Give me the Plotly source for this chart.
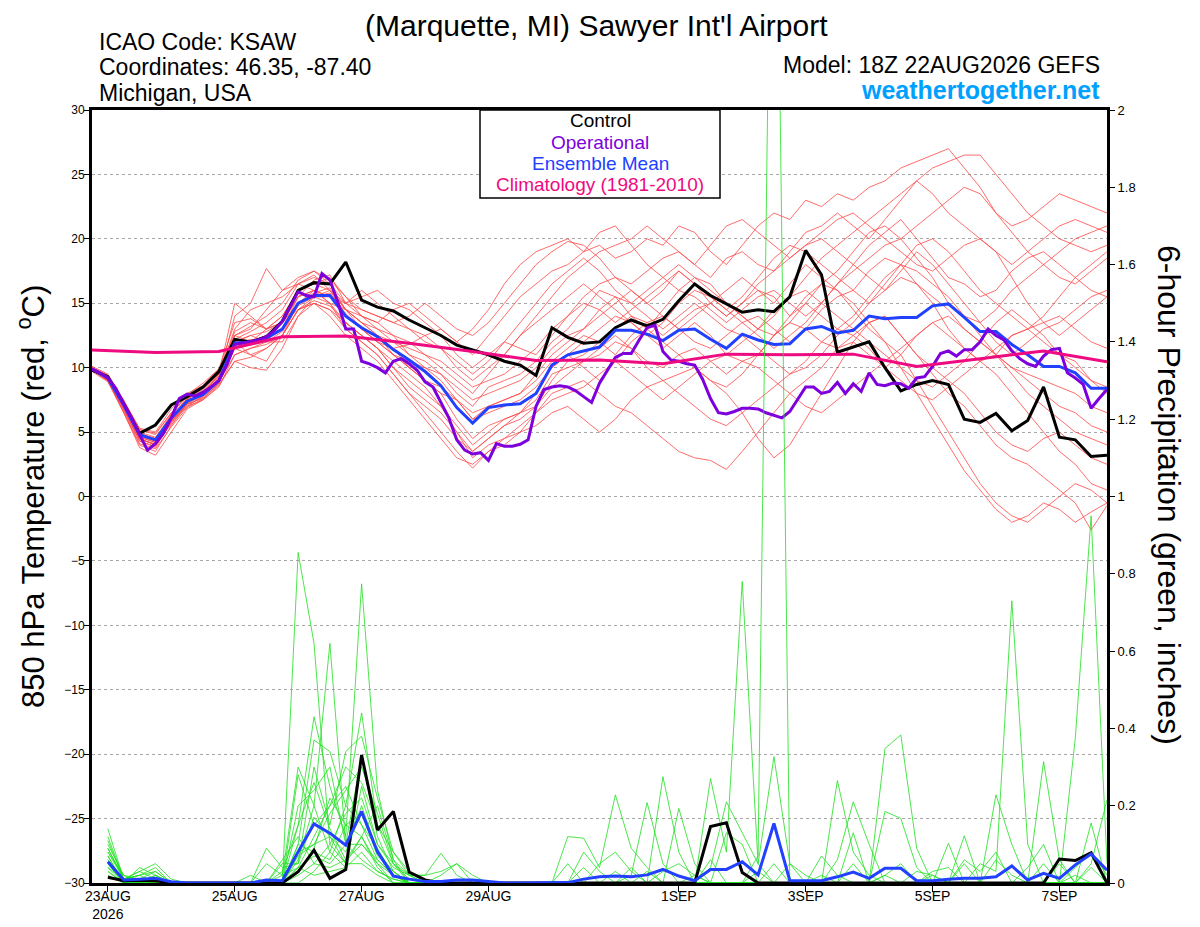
import pandas as pd
import plotly.graph_objects as go

# GEFS run 18Z 22AUG2026, temperature every 6h from the analysis, precip from +6h
RUN_START = '2026-08-22 18:00'
RUN_END = '2026-09-07 18:00'

tick_days = ['2026-08-23', '2026-08-25', '2026-08-27', '2026-08-29',
             '2026-09-01', '2026-09-03', '2026-09-05', '2026-09-07']
tick_labels = ['23AUG<br>2026', '25AUG', '27AUG', '29AUG', '1SEP', '3SEP', '5SEP', '7SEP']

# 850 hPa temperature (C), 6-hourly, 65 values
control_t = [9.8, 9.3, 7.2, 4.9, 5.55, 7.1, 7.75, 8.5, 9.7,
             12.2, 12.0, 12.4, 13.6, 16.0, 16.6, 16.5, 18.2, 15.25, 14.7, 14.4, 13.7,
             13.1, 12.5, 11.75, 11.4, 11.0, 10.5, 10.2, 9.4, 13.1, 12.35, 11.9, 12.0,
             13.1, 13.7, 13.25, 13.75, 15.2, 16.5, 15.6, 14.95, 14.3, 14.5,
             14.35, 15.5, 19.1, 17.2, 11.2, 11.6, 12.0, 10.0, 8.2, 8.7, 9.0, 8.7,
             6.0, 5.75, 6.45, 5.1, 5.9, 8.5, 4.6, 4.4, 3.1, 3.2]

mean_t = [9.9, 9.2, 7.1, 4.8, 4.4, 6.1, 7.4, 7.9, 9.0,
          11.9, 12.0, 12.3, 13.0, 15.0, 15.6, 15.6, 14.0,
          13.1, 12.4, 11.4, 10.6, 9.7, 8.6, 6.9, 5.7, 6.9, 7.1, 7.2, 8.0,
          10.2, 11.0, 11.3, 11.6, 12.9, 12.9, 12.6, 12.1, 12.9, 13.0, 12.2, 11.5,
          12.6, 12.15, 11.8, 11.85, 13.0, 13.2, 12.7, 12.9, 14.0, 13.8, 13.9, 13.9,
          14.8, 14.95, 13.9, 12.8, 12.8, 11.8, 11.0, 10.1, 10.1, 9.6, 8.4, 8.4]

# operational GFS is 3-hourly, 129 values
operational_t = [9.9, 9.6, 9.2, 8.4, 7.2, 6.1, 4.8, 3.6, 4.1, 4.9, 6.1, 7.6, 7.95, 7.8,
                 8.1, 8.5, 9.0, 10.2, 11.8, 11.9, 12.0, 12.15, 12.4, 12.9, 13.6, 14.7,
                 15.9, 15.6, 15.5, 17.3, 16.8, 15.1, 13.0, 13.0, 10.5, 10.3, 10.0, 9.6,
                 10.5, 10.7, 10.3, 9.8,
                 8.9, 8.5, 7.3, 6.1, 4.4, 3.6, 3.3, 3.4, 2.8, 4.1, 3.9, 3.9, 4.05, 4.4,
                 7.0, 8.3, 8.5, 8.6, 8.5, 8.2, 7.75, 7.3, 8.8, 9.8, 10.8, 11.1, 11.1,
                 12.15, 13.1, 13.3, 11.25, 10.6, 10.5, 10.3, 10.2, 9.1, 7.6, 6.5, 6.4,
                 6.6, 6.85, 6.85, 6.8,
                 6.5, 6.3, 6.1, 6.6, 7.6, 8.5, 8.5, 8.0, 8.15, 8.85, 8.0, 8.75, 8.15,
                 9.6, 8.7, 8.6, 8.8, 8.75, 8.4, 9.2, 9.3, 10.1, 11.1, 11.3, 10.9, 11.4,
                 11.4, 12.0, 13.0, 12.5, 12.15, 11.3, 10.7, 10.3, 10.1, 10.9, 11.4, 11.5,
                 9.6, 9.2, 8.7, 6.85, 7.6, 8.3]

# climatology, one value per day from the run start
climatology_t = [11.37, 11.17, 11.25, 12.4, 12.46, 11.9, 11.25, 10.55, 10.6,
                 10.3, 11.05, 11.0, 11.05, 10.1, 10.7, 11.3, 10.45]

# ensemble members (temperature)
red_01 = [9.9, 9.0, 6.5, 4.0, 3.5, 5.5, 7.2, 8.0, 9.5, 13.0, 14.5, 15.0, 15.5, 16.5, 17.2, 16.0, 14.0,
          13.0, 12.0, 11.5, 11.8, 12.5, 13.0, 12.0, 11.0, 12.5, 14.0, 15.5, 16.5,
          17.5, 18.0, 19.0, 19.5, 18.5, 19.0, 20.0, 19.5, 21.0, 20.5, 19.0, 18.0,
          19.5, 21.0, 22.0, 21.5, 23.0, 22.5, 23.5, 23.0, 24.0, 24.5, 25.5, 26.0, 26.5, 27.0,
          25.5, 24.0, 22.0, 21.0, 21.5, 22.5, 23.5, 23.0, 22.5, 22.0]
red_02 = [10.0, 9.3, 7.5, 5.2, 4.8, 6.5, 7.8, 8.5, 9.8, 12.5, 13.0, 14.5, 16.0, 17.0, 17.5, 16.5, 15.0,
          14.5, 14.0, 13.5, 14.0, 15.0, 14.0, 13.0, 12.5, 13.5, 15.0, 16.5, 18.0,
          19.0, 19.8, 19.5, 18.5, 17.0, 16.5, 17.5, 18.5, 19.0, 18.0, 17.0, 18.5,
          19.0, 18.0, 17.5, 19.0, 20.5, 21.0, 22.0, 21.0, 20.0, 21.5, 23.0, 24.5, 25.5, 26.0,
          26.5, 26.5, 25.0, 23.5, 22.0, 21.0, 20.0, 19.5, 19.0, 19.5]
red_03 = [9.8, 9.0, 6.8, 4.3, 3.8, 5.8, 7.0, 7.5, 8.5, 11.0, 11.5, 11.8, 12.5, 14.5, 15.5, 15.0, 13.5,
          12.5, 11.5, 10.0, 9.0, 8.0, 7.0, 5.0, 3.5, 4.5, 5.5, 6.0, 7.0,
          9.0, 10.5, 11.0, 12.0, 13.0, 14.0, 13.5, 12.5, 13.5, 14.5, 15.0, 14.0,
          15.0, 16.0, 15.5, 14.0, 15.5, 16.5, 16.0, 15.0, 13.5, 12.0, 10.0, 8.0, 6.0, 4.0,
          2.0, 0.5, -1.0, -2.0, -1.5, -0.5, -1.0, -2.0, -1.2, -0.5]
red_04 = [9.9, 9.2, 7.2, 4.9, 4.5, 6.3, 7.6, 8.2, 9.3, 12.0, 12.5, 12.0, 13.5, 15.5, 16.0, 15.5, 14.5,
          13.5, 12.5, 11.0, 10.0, 9.0, 8.0, 6.0, 4.5, 5.5, 6.0, 6.5, 7.5,
          9.5, 10.0, 10.5, 11.0, 12.0, 11.5, 10.5, 10.0, 11.0, 11.5, 10.5, 9.5,
          10.5, 11.0, 12.5, 13.5, 13.0, 12.0, 11.5, 12.5, 13.5, 14.0, 12.5, 11.0, 9.5, 8.0,
          7.0, 5.5, 4.0, 3.0, 2.5, 1.5, 0.5, -0.5, -2.6, -0.7]
red_05 = [10.0, 9.4, 7.0, 4.5, 4.0, 5.8, 7.3, 8.0, 9.2, 14.0, 15.0, 17.7, 16.0, 16.5, 16.0, 15.0, 14.5,
          14.0, 13.5, 14.5, 15.0, 14.0, 13.0, 12.0, 13.0, 14.5, 16.5, 18.0, 19.0,
          19.5, 20.0, 19.0, 20.5, 21.0, 19.5, 18.0, 17.0, 16.0, 15.5, 14.5, 13.5,
          14.5, 15.5, 16.0, 15.0, 14.0, 15.0, 16.5, 18.0, 19.5, 20.5, 21.5, 20.0, 18.5, 17.0,
          16.5, 15.5, 16.0, 17.5, 18.5, 19.0, 18.0, 17.0, 16.0, 15.5]
red_06 = [9.7, 8.9, 6.5, 3.8, 3.2, 5.0, 6.8, 7.5, 8.6, 10.5, 10.0, 9.8, 11.5, 14.0, 15.0, 14.5, 13.0,
          12.0, 11.0, 9.5, 8.0, 6.5, 5.0, 3.5, 2.2, 3.5, 4.5, 5.0, 5.5,
          6.5, 7.0, 6.0, 5.0, 6.0, 7.5, 8.5, 9.0, 8.0, 7.0, 6.0, 5.5,
          6.5, 7.5, 8.5, 9.5, 10.0, 11.0, 12.5, 13.5, 15.0, 16.0, 17.0, 16.5, 15.5, 14.5,
          13.0, 12.0, 11.0, 10.0, 9.0, 8.0, 7.0, 6.5, 5.5, 5.0]
red_07 = [9.9, 9.1, 7.0, 4.7, 4.3, 6.0, 7.5, 8.5, 9.6, 12.5, 12.0, 13.0, 14.0, 16.0, 16.5, 17.0, 15.5,
          14.0, 13.0, 12.0, 11.0, 10.0, 9.5, 8.0, 7.0, 8.5, 9.0, 9.5, 10.5,
          12.0, 13.0, 14.5, 16.0, 15.5, 14.0, 13.0, 14.5, 16.0, 17.0, 16.5, 15.0,
          14.0, 13.0, 12.5, 13.5, 15.0, 16.5, 17.5, 19.0, 20.5, 21.0, 20.0, 18.5, 17.0, 15.0,
          14.0, 13.5, 14.5, 16.0, 17.0, 18.0, 19.0, 20.0, 20.5, 21.0]
red_08 = [9.8, 9.0, 6.9, 4.6, 4.2, 5.9, 7.1, 7.7, 8.8, 11.5, 11.0, 11.5, 12.5, 14.5, 15.0, 14.0, 12.5,
          11.5, 10.5, 9.0, 7.5, 6.0, 4.5, 3.0, 2.5, 3.5, 4.0, 5.0, 6.5,
          8.0, 8.5, 9.0, 8.0, 7.0, 6.5, 5.5, 4.5, 3.5, 3.0, 2.8, 2.1,
          3.5, 5.0, 6.5, 8.0, 9.0, 10.0, 11.5, 12.0, 11.0, 10.0, 11.0, 12.5, 13.5, 14.0,
          13.0, 12.0, 11.0, 10.0, 9.5, 9.0, 8.5, 8.0, 7.0, 6.5]
red_09 = [10.1, 9.5, 7.4, 5.3, 5.0, 6.8, 8.0, 8.6, 9.9, 13.5, 13.8, 13.0, 14.0, 16.0, 16.5, 16.0, 15.0,
          15.5, 16.0, 15.0, 14.5, 13.5, 12.5, 11.0, 10.0, 11.0, 12.0, 11.5, 11.0,
          12.5, 14.0, 15.5, 16.5, 17.0, 16.0, 15.0, 16.0, 17.5, 16.5, 15.0, 14.0,
          15.0, 16.5, 17.5, 18.5, 19.5, 20.0, 19.0, 18.0, 17.0, 16.0, 17.5, 19.0, 18.0, 16.5,
          15.0, 13.5, 12.0, 11.0, 12.0, 13.0, 13.5, 14.5, 15.5, 16.0]
red_10 = [9.8, 9.1, 6.7, 4.4, 4.1, 5.6, 7.0, 7.8, 8.9, 11.0, 11.5, 12.0, 12.0, 14.0, 15.5, 16.0, 14.5,
          13.5, 12.5, 11.5, 10.0, 9.0, 8.0, 7.5, 6.5, 7.0, 7.5, 8.0, 9.0,
          10.5, 11.5, 12.5, 12.0, 11.0, 12.5, 13.5, 14.0, 13.0, 12.0, 11.5, 12.5,
          13.5, 14.0, 13.0, 12.0, 13.0, 14.5, 15.5, 16.0, 17.5, 18.5, 18.0, 16.5, 15.0, 13.0,
          11.5, 10.5, 11.0, 12.5, 13.0, 12.0, 11.0, 10.5, 9.0, 8.0]
red_11 = [9.9, 9.3, 7.3, 5.0, 4.6, 6.2, 7.4, 7.9, 9.1, 12.0, 12.5, 12.8, 13.5, 15.0, 15.8, 16.2, 14.5,
          13.0, 12.0, 11.0, 10.5, 10.0, 9.0, 7.5, 6.0, 7.0, 7.5, 8.0, 9.5,
          11.0, 12.0, 13.0, 14.0, 15.0, 16.0, 15.0, 14.0, 13.0, 14.0, 15.0, 16.0,
          17.0, 16.0, 15.0, 16.5, 18.0, 17.0, 16.0, 14.5, 13.0, 12.0, 11.0, 9.0, 7.0, 5.0,
          3.0, 1.0, -0.5, -1.5, -2.0, -1.0, 0.0, 1.0, 0.5, -0.5]
red_12 = [9.9, 9.2, 7.0, 4.5, 4.0, 6.0, 7.2, 7.6, 8.8, 11.5, 12.0, 12.5, 13.0, 15.5, 16.8, 17.2, 15.0,
          14.0, 13.5, 12.5, 11.0, 10.5, 9.5, 8.5, 7.5, 8.0, 8.5, 9.0, 10.0,
          11.5, 12.5, 13.0, 14.5, 15.5, 15.0, 14.0, 13.0, 14.0, 15.0, 14.0, 13.0,
          12.5, 11.5, 10.5, 9.5, 10.5, 12.0, 13.0, 12.5, 11.5, 10.0, 9.0, 8.0, 7.5, 8.5,
          9.5, 10.5, 11.5, 12.5, 13.0, 13.5, 14.0, 13.0, 12.0, 11.5]
red_13 = [9.8, 9.0, 7.1, 4.8, 4.5, 6.4, 7.9, 8.8, 9.9, 12.0, 11.0, 10.5, 12.5, 15.0, 16.0, 15.0, 13.0,
          12.0, 11.0, 9.5, 8.0, 7.0, 6.0, 4.5, 3.5, 4.5, 5.5, 6.5, 8.0,
          10.0, 11.0, 10.0, 9.0, 10.5, 12.0, 13.0, 12.0, 11.0, 10.0, 9.0, 8.5,
          9.5, 11.0, 12.5, 14.0, 15.0, 14.0, 13.0, 14.0, 15.5, 17.0, 18.0, 17.5, 16.5, 15.5,
          14.0, 12.5, 11.0, 9.5, 8.0, 7.0, 6.0, 5.0, 4.5, 4.0]
red_14 = [10.0, 9.3, 7.2, 4.9, 4.4, 6.0, 7.5, 8.1, 9.4, 12.8, 13.5, 13.0, 13.5, 15.0, 15.5, 15.5, 14.0,
          13.0, 12.5, 12.0, 11.5, 11.0, 10.0, 9.0, 8.0, 9.5, 11.0, 12.5, 13.5,
          14.5, 15.5, 16.5, 15.5, 14.5, 13.5, 12.5, 13.5, 15.0, 16.0, 15.5, 14.5,
          15.5, 17.0, 18.5, 19.5, 19.0, 18.0, 17.0, 16.0, 15.0, 16.5, 18.0, 19.5, 20.0, 19.0,
          17.5, 16.0, 15.0, 14.0, 13.0, 14.0, 15.5, 17.0, 18.0, 19.0]
red_15 = [9.9, 9.1, 6.8, 4.3, 3.9, 5.7, 7.2, 7.8, 9.0, 11.5, 12.0, 12.5, 13.5, 14.5, 15.0, 14.5, 13.5,
          12.5, 11.5, 10.5, 9.5, 8.5, 7.0, 5.5, 4.0, 5.0, 6.0, 6.5, 7.0,
          8.5, 9.5, 10.5, 11.5, 12.5, 11.5, 10.0, 9.0, 9.5, 10.0, 9.0, 8.0,
          6.5, 4.5, 3.0, 4.0, 6.0, 8.0, 10.0, 12.0, 13.5, 14.0, 12.5, 11.0, 10.0, 9.0,
          8.0, 6.5, 5.0, 4.0, 3.5, 4.5, 5.0, 4.0, 3.0, 2.5]
red_16 = [9.9, 9.2, 7.3, 5.2, 4.9, 6.5, 7.7, 8.3, 9.5, 15.0, 14.0, 13.0, 13.5, 15.5, 16.0, 15.5, 15.0,
          16.0, 15.0, 14.0, 13.0, 12.5, 11.5, 10.0, 9.0, 10.0, 11.0, 12.5, 14.0,
          15.5, 17.0, 18.0, 19.0, 19.5, 20.0, 21.0, 20.0, 19.0, 18.0, 19.5, 21.0,
          21.5, 20.5, 19.5, 18.5, 19.5, 20.5, 21.5, 22.0, 21.0, 20.0, 19.0, 18.0, 17.5, 18.5,
          19.5, 20.0, 19.0, 17.0, 15.0, 13.5, 12.5, 13.5, 14.5, 15.5]
red_17 = [9.8, 9.0, 6.6, 4.1, 3.7, 5.4, 6.9, 7.6, 8.7, 10.5, 10.8, 11.5, 12.5, 14.5, 15.2, 14.8, 13.5,
          12.5, 11.5, 10.0, 8.5, 7.5, 6.5, 5.0, 3.0, 4.0, 4.5, 5.5, 6.5,
          7.5, 8.0, 8.5, 9.5, 10.5, 9.5, 8.5, 7.5, 8.5, 9.5, 10.5, 11.0,
          12.0, 13.0, 14.5, 15.5, 16.0, 15.0, 14.0, 13.0, 12.0, 11.0, 10.0, 9.0, 8.5, 9.5,
          10.5, 12.0, 13.5, 14.5, 13.5, 12.5, 11.0, 10.0, 9.0, 8.5]
red_18 = [10.0, 9.4, 7.2, 4.6, 4.2, 6.1, 7.6, 8.4, 9.6, 12.2, 12.8, 13.5, 14.5, 16.5, 17.0, 16.5, 14.5,
          13.5, 13.0, 12.5, 12.0, 11.0, 10.5, 9.5, 8.5, 9.0, 9.5, 10.5, 11.5,
          13.0, 14.0, 15.0, 14.5, 13.5, 14.5, 15.5, 16.5, 17.5, 16.5, 15.5, 14.5,
          13.5, 12.5, 11.5, 12.5, 13.5, 15.0, 16.5, 17.5, 18.5, 19.5, 20.0, 21.0, 22.0, 23.0,
          24.0, 23.5, 22.0, 20.5, 19.0, 18.0, 17.0, 16.5, 17.5, 18.5]
red_19 = [9.9, 9.2, 7.0, 4.7, 4.3, 6.0, 7.4, 8.0, 9.0, 11.8, 12.2, 12.0, 12.8, 14.8, 15.5, 15.8, 14.2,
          13.0, 12.0, 11.0, 10.0, 9.0, 8.5, 7.5, 6.0, 6.5, 7.0, 7.5, 8.5,
          10.0, 11.0, 12.0, 13.0, 14.0, 13.5, 12.5, 11.5, 12.5, 13.5, 12.5, 11.0,
          10.5, 10.0, 9.0, 8.0, 7.0, 6.5, 7.5, 8.5, 9.5, 10.5, 11.5, 12.5, 13.5, 12.5,
          11.5, 10.5, 9.5, 8.0, 6.5, 5.0, 3.5, 2.5, 1.0, 0.5]
red_20 = [9.8, 9.1, 6.9, 4.5, 4.0, 5.9, 7.3, 8.1, 9.3, 12.5, 13.2, 14.0, 15.0, 16.8, 17.5, 16.8, 15.5,
          14.5, 14.0, 13.5, 13.0, 12.0, 11.5, 10.5, 9.5, 10.5, 12.0, 13.5, 15.0,
          16.5, 17.5, 18.5, 17.5, 16.0, 15.0, 16.0, 17.0, 18.0, 17.0, 16.0, 15.0,
          14.0, 13.0, 14.0, 15.5, 17.0, 18.5, 19.5, 20.5, 21.5, 22.5, 23.5, 24.5, 23.5, 22.0,
          21.0, 20.0, 19.0, 18.0, 19.0, 20.0, 21.0, 21.5, 21.0, 20.5]

# 6-hour precipitation (inches), 64 values from 00Z 23AUG
control_p = [0.015, 0.006, 0.007, 0.006, 0, 0, 0, 0,
             0, 0, 0, 0, 0.029, 0.085, 0.012, 0.035,
             0.331, 0.137, 0.185, 0.028, 0.008, 0, 0, 0,
             0, 0, 0, 0, 0, 0, 0, 0,
             0, 0, 0, 0, 0, 0, 0.146, 0.156,
             0.027, 0, 0, 0, 0, 0, 0, 0,
             0, 0, 0, 0, 0, 0, 0, 0,
             0, 0, 0, 0, 0.062, 0.058, 0.078, 0]
mean_p = [0.055, 0.008, 0.01, 0.012, 0.003, 0, 0, 0,
          0, 0, 0.008, 0.006, 0.081, 0.153, 0.129, 0.098,
          0.185, 0.081, 0.018, 0.01, 0.004, 0.004, 0.008, 0.008,
          0.004, 0, 0, 0, 0, 0.001, 0.01, 0.016,
          0.018, 0.016, 0.021, 0.035, 0.018, 0.006, 0.035, 0.035,
          0.055, 0.021, 0.154, 0.006, 0.006, 0.006, 0.016, 0.028,
          0.012, 0.038, 0.038, 0.006, 0.006, 0.01, 0.012, 0.012,
          0.016, 0.044, 0.008, 0.025, 0.012, 0.047, 0.075, 0.033]

green_01 = [0.14, 0.01, 0.02, 0.04, 0, 0, 0, 0, 0, 0, 0, 0, 0.855, 0.62, 0.10, 0.05,
            0.12, 0.05, 0.02, 0, 0, 0, 0, 0, 0, 0, 0, 0, 0, 0, 0, 0,
            0, 0, 0, 0.03, 0.05, 0.02, 0, 0, 0, 0, 0, 0, 0, 0, 0, 0,
            0, 0, 0, 0, 0, 0, 0, 0.05, 0.03, 0.73, 0.10, 0, 0, 0, 0, 0]
green_02 = [0.09, 0.01, 0.03, 0.05, 0.01, 0, 0, 0, 0, 0, 0, 0.03, 0.15, 0.43, 0.25, 0.12,
            0.774, 0.24, 0.06, 0.02, 0, 0, 0, 0, 0, 0, 0, 0, 0, 0, 0, 0,
            0, 0, 0, 0, 0, 0, 0, 0, 0, 0.07, 3.3, 0, 0, 0.02, 0, 0,
            0, 0, 0, 0, 0, 0, 0, 0, 0, 0, 0, 0, 0, 0.04, 0.08, 0.02]
green_03 = [0.07, 0, 0, 0.02, 0, 0, 0, 0, 0, 0, 0.05, 0.02, 0.3, 0.2, 0.62, 0.1,
            0.1, 0.06, 0.02, 0, 0, 0, 0, 0, 0, 0, 0, 0, 0, 0, 0, 0,
            0.03, 0, 0, 0, 0, 0, 0.27, 0.08, 0.78, 0.05, 0, 0, 0, 0, 0, 0,
            0, 0.02, 0, 0, 0, 0, 0, 0, 0, 0, 0, 0, 0, 0.374, 0.95, 0.05]
green_04 = [0.05, 0.01, 0, 0, 0, 0, 0, 0, 0, 0.02, 0, 0, 0.1, 0.37, 0.34, 0.2,
            0.44, 0.15, 0.05, 0, 0, 0, 0, 0, 0, 0, 0, 0, 0, 0, 0.08, 0.03,
            0, 0.02, 0.208, 0.05, 0, 0, 0, 0, 0, 0, 0, 0.05, 0.02, 0, 0.265, 0.08,
            0.02, 0, 0, 0, 0, 0, 0, 0, 0, 0, 0, 0, 0, 0, 0, 0]
green_05 = [0.11, 0.01, 0.01, 0.03, 0, 0, 0, 0, 0, 0, 0, 0.05, 0.05, 0.3, 0.15, 0.34,
            0.38, 0.22, 0.08, 0.03, 0, 0, 0, 0, 0, 0, 0, 0, 0, 0, 0, 0,
            0, 0, 0, 0.275, 0.08, 0, 0.06, 0, 0, 0, 0, 0, 0, 0, 0.06, 0.21,
            0.1, 0, 0, 0, 0, 0, 0, 0, 0, 0, 0, 0.314, 0.06, 0, 0, 0]
green_06 = [0.03, 0, 0, 0, 0, 0, 0, 0, 0, 0, 0, 0, 0.2, 0.24, 0.3, 0.1,
            0.33, 0.12, 0.03, 0, 0, 0.02, 0.05, 0, 0, 0, 0, 0, 0, 0.12, 0.116, 0.04,
            0.228, 0.09, 0.04, 0, 0, 0, 0.04, 0.21, 0.13, 0.05, 0.327, 0.05, 0, 0, 0, 0,
            0, 0, 0, 0, 0, 0, 0.122, 0, 0.06, 0.02, 0, 0, 0, 0, 0, 0]
green_07 = [0.06, 0.01, 0.03, 0.01, 0, 0, 0, 0, 0, 0, 0, 0, 0.06, 0.2, 0.08, 0.04,
            0.25, 0.1, 0.05, 0.02, 0.02, 0.077, 0.02, 0, 0, 0, 0, 0, 0, 0, 0, 0,
            0, 0, 0, 0, 0.193, 0.05, 0, 0, 0, 0, 0, 0, 0, 0.07, 0.02, 0,
            0, 0.348, 0.383, 0.09, 0, 0, 0, 0, 0, 0, 0, 0, 0, 0, 0.05, 0.215]
green_08 = [0.04, 0, 0.04, 0.02, 0, 0, 0, 0, 0, 0, 0.09, 0.04, 0.05, 0.17, 0.12, 0.08,
            0.2, 0.08, 0.03, 0, 0, 0, 0, 0, 0, 0, 0, 0, 0, 0, 0, 0,
            0, 0, 0, 0, 0, 0, 0, 0.13, 0.1, 0, 0, 0, 0, 0, 0, 0.13,
            0, 0.185, 0.167, 0.04, 0, 0.103, 0, 0, 0.228, 0.1, 0, 0, 0, 0, 0.155, 0]
green_09 = [0.02, 0, 0, 0, 0, 0, 0, 0, 0, 0, 0, 0, 0.28, 0.15, 0.2, 0.25,
            0.15, 0.06, 0.02, 0, 0, 0, 0, 0, 0, 0, 0, 0, 0, 0, 0, 0,
            0, 0, 0, 0, 0, 0, 0, 0, 0, 0, 0, 0, 0, 0, 0, 0,
            0, 0, 0, 0, 0, 0, 0.06, 0.03, 0.08, 0, 0.04, 0.1, 0, 0.02, 0, 0]
green_10 = [0.1, 0.02, 0.01, 0, 0, 0, 0, 0, 0, 0, 0, 0, 0.04, 0.12, 0.2, 0.3,
            0.26, 0.15, 0.08, 0.02, 0, 0, 0, 0, 0, 0, 0, 0, 0, 0, 0.04, 0,
            0, 0, 0, 0, 0, 0, 0, 0, 0, 0, 0, 0, 0, 0, 0, 0,
            0, 0.02, 0.05, 0, 0, 0, 0, 0, 0, 0, 0, 0, 0, 0, 0, 0]
green_11 = [0.08, 0.01, 0.02, 0.03, 0, 0, 0, 0, 0, 0, 0, 0, 0.1, 0.08, 0.06, 0.15,
            0.18, 0.07, 0.03, 0, 0, 0, 0, 0, 0, 0, 0, 0, 0, 0.05, 0, 0,
            0, 0, 0, 0, 0, 0, 0, 0, 0, 0, 0, 0, 0, 0, 0, 0.05,
            0, 0, 0, 0, 0, 0, 0, 0, 0, 0, 0, 0, 0, 0, 0, 0]
green_12 = [0.05, 0, 0, 0, 0, 0, 0, 0, 0, 0, 0, 0.06, 0.12, 0.05, 0.1, 0.18,
            0.22, 0.1, 0.04, 0.02, 0.02, 0.03, 0.05, 0.02, 0, 0, 0, 0, 0, 0, 0, 0,
            0, 0, 0, 0, 0, 0, 0, 0, 0, 0, 0, 0, 0, 0, 0, 0,
            0, 0, 0, 0, 0.02, 0, 0.05, 0, 0, 0, 0, 0, 0, 0, 0, 0]
green_13 = [0.06, 0.01, 0, 0, 0, 0, 0, 0, 0, 0, 0, 0, 0.15, 0.26, 0.14, 0.06,
            0.12, 0.04, 0, 0, 0, 0, 0, 0, 0, 0, 0, 0, 0, 0, 0, 0,
            0, 0, 0, 0, 0, 0, 0, 0, 0, 0, 0.05, 0, 0, 0, 0, 0,
            0, 0, 0, 0, 0, 0, 0, 0, 0, 0, 0, 0, 0, 0, 0, 0]
green_14 = [0.12, 0.01, 0.02, 0, 0, 0, 0, 0, 0, 0, 0, 0, 0.08, 0.1, 0.18, 0.24,
            0.3, 0.18, 0.05, 0.01, 0, 0, 0, 0, 0, 0, 0, 0, 0, 0, 0, 0,
            0, 0, 0, 0, 0, 0.02, 0, 0, 0, 0, 0, 0, 0, 0, 0, 0,
            0, 0, 0, 0, 0, 0, 0, 0, 0, 0, 0, 0, 0.05, 0, 0, 0]
green_15 = [0.04, 0.01, 0, 0, 0, 0, 0, 0, 0, 0, 0, 0.02, 0.04, 0.07, 0.05, 0.1,
            0.06, 0.03, 0.01, 0, 0, 0, 0, 0, 0, 0, 0, 0, 0, 0, 0, 0.05,
            0.08, 0.03, 0, 0, 0, 0, 0, 0, 0, 0, 0, 0, 0, 0, 0, 0,
            0, 0, 0, 0, 0, 0, 0, 0, 0, 0, 0, 0, 0, 0, 0, 0]
green_16 = [0.08, 0.02, 0, 0.02, 0, 0, 0, 0, 0, 0, 0, 0, 0.03, 0.09, 0.22, 0.15,
            0.12, 0.2, 0.06, 0, 0, 0, 0, 0, 0, 0, 0, 0, 0, 0, 0, 0,
            0, 0, 0.03, 0, 0, 0, 0, 0, 0, 0, 0, 0, 0, 0, 0, 0,
            0, 0, 0, 0.03, 0.02, 0, 0, 0, 0, 0, 0, 0, 0, 0, 0, 0]
green_17 = [0.07, 0, 0, 0, 0, 0, 0, 0, 0, 0, 0, 0, 0.02, 0.05, 0.04, 0.06,
            0.1, 0.05, 0, 0, 0, 0, 0, 0, 0, 0, 0, 0, 0, 0, 0, 0,
            0, 0.04, 0, 0, 0, 0, 0, 0, 0, 0, 0, 0, 0, 0, 0, 0,
            0, 0, 0, 0, 0.03, 0.04, 0, 0, 0, 0, 0, 0, 0, 0, 0, 0]
green_18 = [0.09, 0.01, 0.01, 0, 0, 0, 0, 0, 0, 0, 0, 0, 0.07, 0.1, 0.12, 0.05,
            0.05, 0.02, 0, 0, 0, 0, 0, 0, 0, 0, 0, 0, 0, 0, 0, 0,
            0, 0, 0, 0, 0, 0, 0, 0, 0, 0, 0, 0, 0, 0, 0, 0,
            0, 0, 0, 0, 0, 0, 0, 0, 0, 0, 0, 0, 0, 0, 0.04, 0]
green_19 = [0.03, 0, 0, 0.01, 0, 0, 0, 0, 0, 0, 0, 0, 0, 0.03, 0.08, 0.2,
            0.15, 0.09, 0.02, 0, 0, 0, 0, 0, 0, 0, 0, 0, 0, 0, 0, 0,
            0, 0, 0, 0, 0, 0, 0, 0, 0, 0, 0, 0, 0, 0, 0, 0,
            0, 0, 0, 0, 0, 0, 0, 0, 0, 0, 0, 0.05, 0, 0, 0, 0]
green_20 = [0.05, 0, 0, 0, 0, 0, 0, 0, 0, 0, 0, 0, 0.04, 0.02, 0.03, 0.04,
            0.08, 0.03, 0.01, 0, 0, 0, 0, 0, 0, 0, 0, 0, 0, 0, 0, 0,
            0, 0, 0, 0, 0, 0, 0, 0, 0, 0.03, 0, 0, 0, 0, 0, 0,
            0, 0, 0, 0, 0, 0, 0, 0, 0, 0, 0, 0, 0, 0, 0, 0]

red_members = [red_01, red_02, red_03, red_04, red_05, red_06, red_07, red_08, red_09, red_10,
               red_11, red_12, red_13, red_14, red_15, red_16, red_17, red_18, red_19, red_20]
green_members = [green_01, green_02, green_03, green_04, green_05, green_06, green_07,
                 green_08, green_09, green_10, green_11, green_12, green_13, green_14,
                 green_15, green_16, green_17, green_18, green_19, green_20]

# time axes
t6 = pd.date_range(RUN_START, periods=65, freq='6h')
t3 = pd.date_range(RUN_START, periods=129, freq='3h')
t24 = pd.date_range(RUN_START, periods=17, freq='24h')
tp = t6[1:]

# plot area in page pixels; the page body has an 8px default margin,
# the figure runs past the bottom of the window so the year label is not clipped
PAGE_W, PAGE_H, BODY = 1200, 927, 8
L, R, T, B = 92, 1107, 110, 883
FIG_W, FIG_H = PAGE_W - 2 * BODY, PAGE_H - BODY


def px(x):
    return (x - L) / (R - L)


def py(y):
    return (B - y) / (B - T)


fig = go.Figure()

for g in green_members:
    fig.add_trace(go.Scatter(x=tp, y=g, yaxis='y2', mode='lines',
                             line=dict(color='#1ee01e', width=0.8), hoverinfo='skip'))
for r in red_members:
    fig.add_trace(go.Scatter(x=t6, y=r, mode='lines',
                             line=dict(color='#ff4848', width=0.8), hoverinfo='skip'))

fig.add_trace(go.Scatter(x=t6, y=control_t, mode='lines', line=dict(color='black', width=3)))
fig.add_trace(go.Scatter(x=t6, y=mean_t, mode='lines', line=dict(color='#2140ff', width=3)))
fig.add_trace(go.Scatter(x=t3, y=operational_t, mode='lines', line=dict(color='#7d00dc', width=3)))
fig.add_trace(go.Scatter(x=t24, y=climatology_t, mode='lines', line=dict(color='#ee0a80', width=3)))

fig.add_trace(go.Scatter(x=tp, y=control_p, yaxis='y2', mode='lines',
                         line=dict(color='black', width=3)))
fig.add_trace(go.Scatter(x=tp, y=mean_p, yaxis='y2', mode='lines',
                         line=dict(color='#2140ff', width=3)))

fig.update_layout(
    width=FIG_W, height=FIG_H,
    margin=dict(l=L - BODY, r=FIG_W - (R - BODY), t=T - BODY, b=FIG_H - (B - BODY)),
    plot_bgcolor='white', paper_bgcolor='white',
    showlegend=False,
    font=dict(family='Liberation Sans, Arial, sans-serif', color='black'),
    xaxis=dict(type='date', range=[RUN_START, RUN_END], automargin=False,
               tickvals=tick_days, ticktext=tick_labels,
               ticks='outside', ticklen=6, tickwidth=1, tickcolor='black',
               ticklabelstandoff=-8,
               showline=True, linewidth=3, linecolor='black', mirror=True,
               showgrid=False, zeroline=False, tickfont=dict(size=14)),
    yaxis=dict(range=[-30, 30], tick0=-30, dtick=5, automargin=False,
               ticks='outside', ticklen=5, tickwidth=1, tickcolor='black',
               ticklabelstandoff=-3,
               showline=True, linewidth=3, linecolor='black',
               showgrid=True, gridcolor='#a8a8a8', griddash='dot', gridwidth=1,
               zeroline=False, tickfont=dict(size=12)),
    yaxis2=dict(range=[0, 2], tick0=0, dtick=0.2, overlaying='y', side='right',
                automargin=False,
                ticks='outside', ticklen=5, tickwidth=1, tickcolor='black',
                showline=True, linewidth=3, linecolor='black',
                showgrid=False, zeroline=False, tickfont=dict(size=13)),
)

# legend box
fig.add_shape(type='rect', xref='paper', yref='paper',
              x0=px(480), x1=px(720), y0=py(198), y1=py(110),
              line=dict(color='black', width=1.5), fillcolor='white', layer='above')

legend_rows = [('Control', 'black', 121), ('Operational', '#7d00dc', 142),
               ('Ensemble Mean', '#2140ff', 163), ('Climatology (1981-2010)', '#ee0a80', 185)]
for text, color, ypix in legend_rows:
    fig.add_annotation(text=text, xref='paper', yref='paper', x=px(600), y=py(ypix),
                       xanchor='center', yanchor='middle', showarrow=False,
                       font=dict(size=19, color=color))

header = [
    ("(Marquette, MI) Sawyer Int'l Airport", 596, 25, 'center', 30, 'black'),
    ('ICAO Code: KSAW', 97, 42, 'left', 23, 'black'),
    ('Coordinates: 46.35, -87.40', 97, 67, 'left', 23, 'black'),
    ('Michigan, USA', 97, 93, 'left', 23, 'black'),
    ('Model: 18Z 22AUG2026 GEFS', 1102, 65, 'right', 23, 'black'),
    ('<b>weathertogether.net</b>', 1102, 90, 'right', 25, '#00a0ff'),
]
for text, xpix, ypix, anchor, size, color in header:
    fig.add_annotation(text=text, xref='paper', yref='paper', x=px(xpix), y=py(ypix),
                       xanchor=anchor, yanchor='middle', showarrow=False,
                       font=dict(size=size, color=color))

fig.add_annotation(text='850 hPa Temperature (red, <sup>o</sup>C)', textangle=-90,
                   xref='paper', yref='paper', x=px(31), y=py(497),
                   xanchor='center', yanchor='middle', showarrow=False, font=dict(size=31))
fig.add_annotation(text='6-hour Precipitation (green, inches)', textangle=90,
                   xref='paper', yref='paper', x=px(1169), y=py(495),
                   xanchor='center', yanchor='middle', showarrow=False, font=dict(size=32))

fig.write_html('out.html')
